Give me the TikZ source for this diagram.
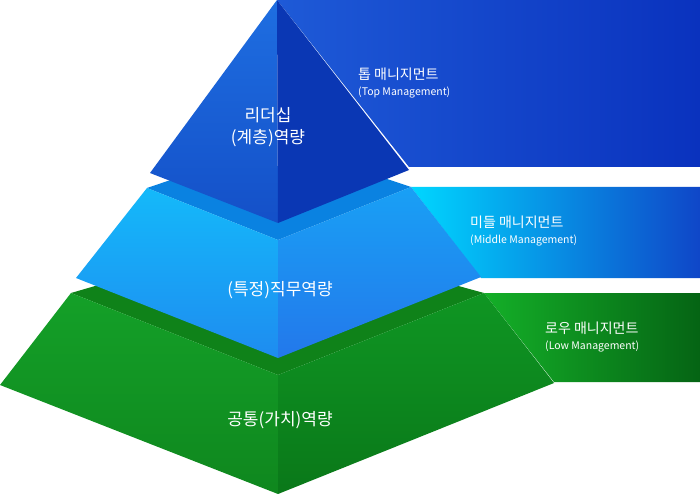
\documentclass[tikz,border=0pt]{standalone}
\usepackage{fontspec}
\setmainfont{Noto Sans CJK KR}
\definecolor{b1l}{RGB}{30,90,215}
\definecolor{b1r}{RGB}{10,50,190}
\definecolor{tl}{RGB}{30,110,225}
\definecolor{tlb}{RGB}{20,80,200}
\definecolor{tr}{RGB}{10,55,180}
\definecolor{b2l}{RGB}{0,215,255}
\definecolor{b2r}{RGB}{15,70,200}
\definecolor{mtop}{RGB}{10,130,225}
\definecolor{ml}{RGB}{20,185,250}
\definecolor{mlb}{RGB}{30,140,240}
\definecolor{mr}{RGB}{25,160,245}
\definecolor{mrb}{RGB}{35,120,235}
\definecolor{b3l}{RGB}{20,175,40}
\definecolor{b3r}{RGB}{5,100,20}
\definecolor{gtop}{RGB}{15,130,25}
\definecolor{gl}{RGB}{20,160,40}
\definecolor{glb}{RGB}{15,135,30}
\definecolor{gr}{RGB}{15,150,35}
\definecolor{grb}{RGB}{10,120,25}
\begin{document}
\begin{tikzpicture}[x=1pt,y=-1pt,
  big/.style={text=white,font=\fontsize{17}{22}\selectfont,align=center,inner sep=0},
  kor/.style={text=white,font=\fontsize{14}{16}\selectfont,anchor=west,inner sep=0},
  eng/.style={text=white,font=\fontsize{10.5}{12}\selectfont,anchor=west,inner sep=0}]
\useasboundingbox (0,0) rectangle (700,494);
\fill[white] (0,0) rectangle (700,494);
% bands
\shade[left color=b1l,right color=b1r] (277,0) -- (700,0) -- (700,167) -- (409,167) -- cycle;
\shade[left color=b2l,right color=b2r] (411,187) -- (700,187) -- (700,278) -- (481,278) -- cycle;
\shade[left color=b3l,right color=b3r] (484,293) -- (700,293) -- (700,382) -- (554,382) -- cycle;
% bottom tier
\fill[gtop] (71,293) -- (150,270) -- (400,270) -- (484,293) -- (278,375) -- cycle;
\shade[top color=gl,bottom color=glb] (71,293) -- (278,375) -- (278,494) -- (0,385) -- cycle;
\shade[top color=gr,bottom color=grb] (278,375) -- (484,293) -- (554,383) -- (278,494) -- cycle;
% middle tier
\fill[mtop] (147,188) -- (200,170) -- (360,170) -- (411,187) -- (278,240) -- cycle;
\shade[top color=ml,bottom color=mlb] (147,188) -- (278,240) -- (278,358) -- (76,278) -- cycle;
\shade[top color=mr,bottom color=mrb] (278,240) -- (411,187) -- (481,277) -- (278,358) -- cycle;
% top pyramid
\shade[top color=tl,bottom color=tlb] (277,0) -- (150,173) -- (278,223) -- cycle;
\fill[tr] (277,0) -- (278,223) -- (409,170) -- cycle;
% labels
\node[big] (t1) at (268,127) {리더십\\(계층)역량};
\node[big] (t2) at (280,290) {(특정)직무역량};
\node[big] (t3) at (280,420) {공통(가치)역량};
\node[kor] (k1) at (358,74) {톱 매니지먼트};
\node[eng] (e1) at (358,93) {(Top Management)};
\node[kor] (k2) at (470,222) {미들 매니지먼트};
\node[eng] (e2) at (470,241) {(Middle Management)};
\node[kor] (k3) at (545,328) {로우 매니지먼트};
\node[eng] (e3) at (545,347) {(Low Management)};
\end{tikzpicture}
\end{document}
